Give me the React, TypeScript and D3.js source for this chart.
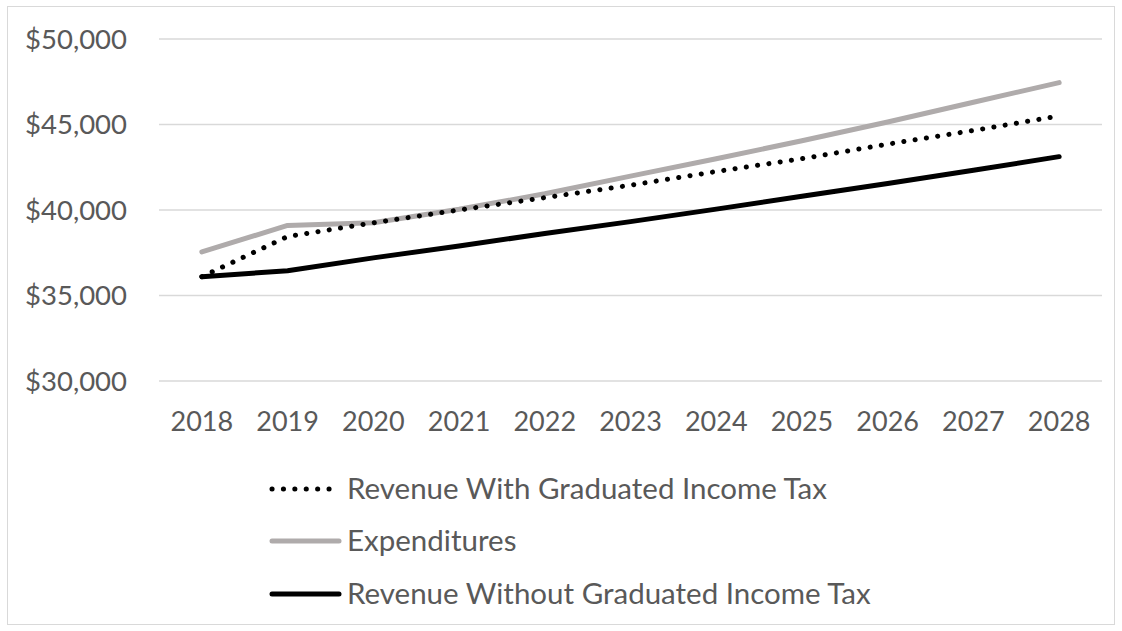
import React from "react";
import * as d3 from "d3";

const years = ["2018", "2019", "2020", "2021", "2022", "2023", "2024", "2025", "2026", "2027", "2028"];
const revenueWith = [36100, 38450, 39250, 40000, 40720, 41450, 42250, 43000, 43850, 44650, 45500];
const expenditures = [37550, 39100, 39250, 40040, 40950, 41980, 43000, 44050, 45150, 46300, 47450];
const revenueWithout = [36100, 36450, 37200, 37900, 38620, 39320, 40050, 40800, 41550, 42320, 43120];
const yTicks = [30000, 35000, 40000, 45000, 50000];

const series = [
  { name: "Revenue With Graduated Income Tax", values: revenueWith, color: "#000000", dotted: true },
  { name: "Expenditures", values: expenditures, color: "#AFABAB", dotted: false },
  { name: "Revenue Without Graduated Income Tax", values: revenueWithout, color: "#000000", dotted: false },
];

export default function App() {
  const W = 1122, H = 631;
  const left = 159, right = 1102, top = 39, bottom = 381;
  const x = d3.scalePoint<string>().domain(years).range([left, right]).padding(0.5);
  const y = d3.scaleLinear().domain([30000, 50000]).range([bottom, top]);
  const line = d3.line<number>().x((_, i) => x(years[i]) as number).y((v) => y(v));
  const font = "Lato, sans-serif";
  const fmt = (v: number) => "$" + d3.format(",")(v);
  const legendY = [489, 541, 594];

  return (
    <svg width={W} height={H} style={{ position: "absolute", left: 0, top: 0 }}>
      <rect x={0} y={0} width={W} height={H} fill="#fff" />
      <rect x={7.5} y={6.5} width={1107} height={618} fill="none" stroke="#d9d9d9" strokeWidth={1} />
      {yTicks.map((t) => (
        <g key={t}>
          <line x1={left} x2={right} y1={y(t)} y2={y(t)} stroke="#d9d9d9" strokeWidth={1.5} />
          <text x={127} y={y(t)} dy="0.35em" textAnchor="end" fontFamily={font} fontSize={27.5} fill="#595959">
            {fmt(t)}
          </text>
        </g>
      ))}
      {years.map((yr) => (
        <text key={yr} x={x(yr)} y={422} dy="0.35em" textAnchor="middle" fontFamily={font} fontSize={27} fill="#595959">
          {yr}
        </text>
      ))}
      {series.slice().reverse().map((s) => (
        <path
          key={s.name}
          d={line(s.values) || ""}
          fill="none"
          stroke={s.color}
          strokeWidth={5}
          strokeLinecap="round"
          strokeLinejoin="round"
          strokeDasharray={s.dotted ? "0.1 11.3" : undefined}
        />
      ))}
      {series.map((s, i) => (
        <g key={s.name}>
          <line
            x1={272}
            x2={339}
            y1={legendY[i]}
            y2={legendY[i]}
            stroke={s.color}
            strokeWidth={5}
            strokeLinecap="round"
            strokeDasharray={s.dotted ? "0.1 11.3" : undefined}
          />
          <text x={347} y={legendY[i]} dy="0.35em" fontFamily={font} fontSize={29.5} fill="#595959">
            {s.name}
          </text>
        </g>
      ))}
    </svg>
  );
}
